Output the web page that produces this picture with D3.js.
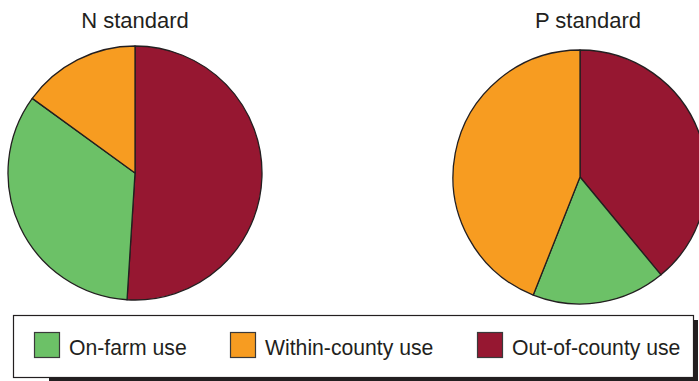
<!DOCTYPE html>
<html>
<head>
<meta charset="utf-8">
<script src="https://cdn.jsdelivr.net/npm/d3@7"></script>
<style>
  html, body { margin: 0; padding: 0; background: #fff; }
  svg { display: block; }
  text { font-family: "Liberation Sans", Arial, sans-serif; fill: #231f20; }
</style>
</head>
<body>
<svg id="chart" width="699" height="381"></svg>
<script>
// Data
const categories = ["Out-of-county use", "On-farm use", "Within-county use"];
const nStandard = [51, 34, 15];
const pStandard = [39, 17, 44];
const panelTitles = ["N standard", "P standard"];
const legendOrder = ["On-farm use", "Within-county use", "Out-of-county use"];
const colors = ["#961731", "#6cc167", "#f79c21"];

const svg = d3.select("#chart");

const color = d3.scaleOrdinal().domain(categories).range(colors);
const pie = d3.pie().sort(null).value(d => d.value);
const R = 127;
const arc = d3.arc().innerRadius(0).outerRadius(R);

const panels = [
  { title: panelTitles[0], values: nStandard, cx: 135, cy: 173, tx: 135 },
  { title: panelTitles[1], values: pStandard, cx: 580, cy: 177, tx: 588 }
];

panels.forEach(p => {
  const data = categories.map((c, i) => ({ cat: c, value: p.values[i] }));
  const g = svg.append("g").attr("transform", `translate(${p.cx},${p.cy})`);
  g.selectAll("path")
    .data(pie(data))
    .join("path")
    .attr("d", arc)
    .attr("fill", d => color(d.data.cat))
    .attr("stroke", "#231f20")
    .attr("stroke-width", 1.3)
    .attr("stroke-linejoin", "round");
  svg.append("text")
    .attr("x", p.tx)
    .attr("y", 28)
    .attr("text-anchor", "middle")
    .attr("font-size", 22)
    .text(p.title);
});

// Legend
const lg = svg.append("g");
lg.append("rect").attr("x", 49).attr("y", 320).attr("width", 649).attr("height", 61).attr("fill", "#231f20");
lg.append("rect").attr("x", 13.5).attr("y", 315.5).attr("width", 680).attr("height", 62)
  .attr("fill", "#fff").attr("stroke", "#231f20").attr("stroke-width", 1.2);

const legendX = [34, 230, 477];
legendOrder.forEach((c, i) => {
  lg.append("rect")
    .attr("x", legendX[i] + 0.5).attr("y", 332.5)
    .attr("width", 25).attr("height", 25)
    .attr("fill", color(c))
    .attr("stroke", "#3a3a3a").attr("stroke-width", 1.2);
  lg.append("text")
    .attr("x", legendX[i] + 35)
    .attr("y", 355)
    .attr("font-size", 21.2)
    .text(c);
});
</script>
</body>
</html>
